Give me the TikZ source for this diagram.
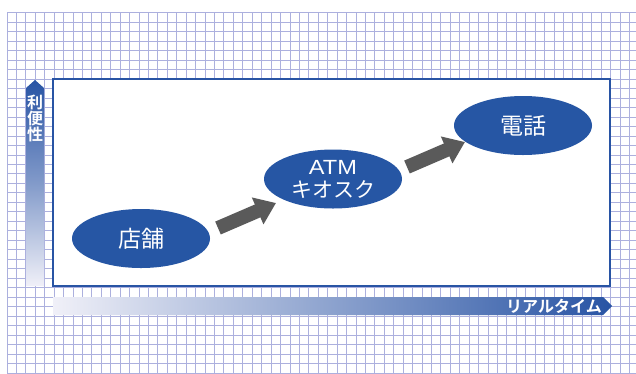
\documentclass[tikz,border=0pt]{standalone}
\usepackage{fontspec}
\setmainfont{Noto Sans CJK JP}
\newfontfamily\jpbold{Noto Sans CJK JP Bold}
\newfontfamily\atmfont[FakeStretch=1.15]{Liberation Sans}
\usetikzlibrary{arrows.meta,shapes.geometric}
\definecolor{gridblue}{RGB}{172,176,222}
\definecolor{boxblue}{RGB}{40,84,164}
\definecolor{ellblue}{RGB}{38,86,164}
\definecolor{arrgray}{RGB}{90,90,90}
\definecolor{paleend}{RGB}{240,240,248}
\tikzset{
  oval/.style={ellipse, fill=ellblue, draw=none, minimum width=138pt, minimum height=59pt, inner sep=0pt, text=white, align=center, font=\fontsize{23}{24}\selectfont},
  bigarrow/.style={draw=arrgray, line width=14pt, -{Triangle[width=28pt,length=20pt]}},
  axislabel/.style={text=white, font=\jpbold\fontsize{16}{17}\selectfont, inner sep=0pt, align=center}
}
\begin{document}
\begin{tikzpicture}[x=1pt,y=-1pt]
\useasboundingbox (0,0) rectangle (636,373);
\fill[white] (0,0) rectangle (636,373);
% grid
\foreach \i in {0,...,66} {
  \draw[gridblue, line width=0.8pt] ({7+9.43*\i},12.7) -- ({7+9.43*\i},373);
}
\foreach \j in {0,...,38} {
  \draw[gridblue, line width=0.8pt] (7,{12.7+9.48*\j}) -- (636,{12.7+9.48*\j});
}
% main box
\draw[boxblue, line width=2pt, fill=white] (53,79) rectangle (610,286);
% vertical axis arrow
\shade[top color=boxblue, bottom color=paleend, middle color=boxblue!55!paleend]
  (26,286) -- (26,88) -- (35,80) -- (44,88) -- (44,286) -- cycle;
\node[axislabel, font=\jpbold\fontsize{16}{16}\selectfont] (vlab) at (35,118) {利\\便\\性};
% horizontal axis arrow
\shade[left color=paleend, right color=boxblue]
  (53,297) -- (603,297) -- (612,306) -- (603,315) -- (53,315) -- cycle;
\node[axislabel] (hlab) at (554,306) {リアルタイム};
% ellipses
\node[oval] (shop) at (141,238.5) {店舗};
\node[oval, font=\fontsize{21}{23}\selectfont] (atm) at (333,179) {{\atmfont\fontsize{20.5}{23}\selectfont ATM}\\キオスク};
\node[oval] (tel) at (523,125.5) {電話};
% arrows
\coordinate (a1s) at (218,228);
\coordinate (a1e) at (276,203);
\coordinate (a2s) at (407,167);
\coordinate (a2e) at (465,142);
\draw[bigarrow] (a1s) -- (a1e);
\draw[bigarrow] (a2s) -- (a2e);
\end{tikzpicture}
\end{document}
